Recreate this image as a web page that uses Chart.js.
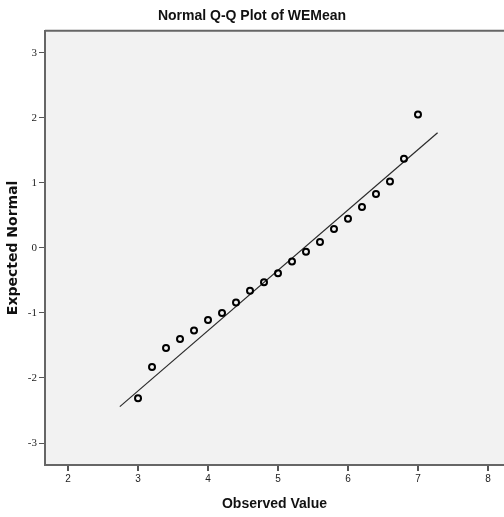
<!DOCTYPE html>
<html><head><meta charset="utf-8">
<script src="https://cdn.jsdelivr.net/npm/chart.js@4"></script>
<style>html,body{margin:0;padding:0;background:#fff;overflow:hidden}#wrap{width:504px;height:517px}canvas{display:block}</style>
</head><body><div id="wrap"><canvas id="c" width="504" height="517"></canvas></div>
<script>
const observed = [3.0, 3.2, 3.4, 3.6, 3.8, 4.0, 4.2, 4.4, 4.6, 4.8, 5.0, 5.2, 5.4, 5.6, 5.8, 6.0, 6.2, 6.4, 6.6, 6.8, 7.0];
const expected = [-2.31, -1.83, -1.54, -1.40, -1.27, -1.11, -1.00, -0.84, -0.66, -0.53, -0.39, -0.21, -0.06, 0.09, 0.29, 0.45, 0.63, 0.83, 1.02, 1.37, 2.05];
const lineX = [2.74, 7.28];
const lineY = [-2.44, 1.77];
const xTicks = [2, 3, 4, 5, 6, 7, 8];
const yTicks = [-3, -2, -1, 0, 1, 2, 3];

const sans = 'Liberation Sans, Arial, sans-serif';

const bgPlugin = {
  id: 'bg',
  beforeDraw(c) {
    const {ctx, chartArea: a} = c;
    ctx.save();
    ctx.fillStyle = '#f2f2f2';
    ctx.fillRect(a.left, a.top, a.right - a.left, a.bottom - a.top);
    ctx.strokeStyle = '#666';
    ctx.lineWidth = 2;
    ctx.beginPath();
    ctx.moveTo(a.left, a.top);
    ctx.lineTo(a.right, a.top);
    ctx.stroke();
    ctx.restore();
  }
};

new Chart(document.getElementById('c'), {
  type: 'scatter',
  data: {
    datasets: [
      {
        data: observed.map((x, i) => ({x: x, y: expected[i]})),
        showLine: false,
        pointRadius: 3,
        pointBorderWidth: 2,
        pointBorderColor: '#000',
        pointBackgroundColor: 'rgba(0,0,0,0)'
      },
      {
        data: lineX.map((x, i) => ({x: x, y: lineY[i]})),
        showLine: true,
        borderColor: '#2a2a2a',
        borderWidth: 1.2,
        pointRadius: 0
      }
    ]
  },
  options: {
    responsive: false,
    animation: false,
    layout: {padding: 0, autoPadding: false},
    plugins: {
      legend: {display: false},
      tooltip: {enabled: false},
      title: {
        display: true,
        text: 'Normal Q-Q Plot of WEMean',
        font: {family: sans, size: 14, weight: 'bold'},
        color: '#111',
        padding: {top: 8, bottom: 6}
      }
    },
    scales: {
      x: {
        type: 'linear',
        min: 1.671,
        max: 8.229,
        afterBuildTicks: s => { s.ticks = xTicks.map(v => ({value: v})); },
        afterFit: s => { s.height = 52; s.paddingRight = 0; s.paddingLeft = 0; },
        grid: {display: true, drawOnChartArea: false, drawTicks: true, tickLength: 6, color: '#555', lineWidth: 2},
        border: {display: true, color: '#666', width: 2},
        ticks: {font: {family: sans, size: 10}, color: '#222', padding: 2, maxRotation: 0, autoSkip: false},
        title: {display: true, text: 'Observed Value', font: {family: sans, size: 14, weight: 'bold'}, color: '#111', padding: {top: 0, bottom: 4}}
      },
      y: {
        type: 'linear',
        min: -3.338,
        max: 3.338,
        afterBuildTicks: s => { s.ticks = yTicks.map(v => ({value: v})); },
        afterFit: s => { s.width = 45; s.paddingTop = 0; s.paddingBottom = 0; },
        grid: {display: true, drawOnChartArea: false, drawTicks: true, tickLength: 6, color: '#555', lineWidth: 1},
        border: {display: true, color: '#666', width: 2},
        ticks: {font: {family: 'Liberation Serif, serif', size: 11}, color: '#222', padding: 2, autoSkip: false},
        title: {display: true, text: 'Expected Normal', font: {family: 'DejaVu Sans, sans-serif', size: 14, weight: 'bold'}, color: '#111', padding: {top: 5, bottom: 0}}
      }
    }
  },
  plugins: [bgPlugin]
});
</script>
</body></html>
